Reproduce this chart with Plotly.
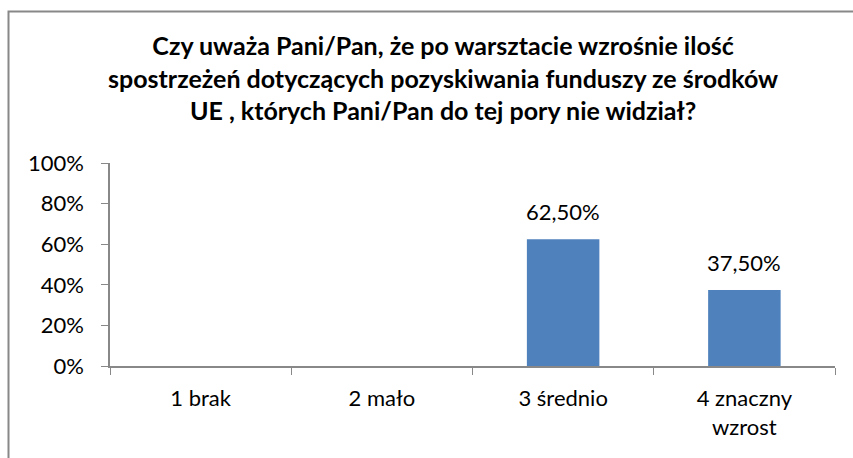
import plotly.graph_objects as go

categories = ["1 brak", "2 mało", "3 średnio", "4 znaczny<br>wzrost"]
values = [0, 0, 0.625, 0.375]
value_labels = ["", "", "62,50%", "37,50%"]
tick_vals = [0, 0.2, 0.4, 0.6, 0.8, 1.0]
tick_text = ["0%", "20%", "40%", "60%", "80%", "100%"]
title_text = ("Czy uważa Pani/Pan, że po warsztacie wzrośnie ilość<br>"
              "spostrzeżeń dotyczących pozyskiwania funduszy ze środków<br>"
              "UE , których Pani/Pan do tej pory nie widział?")

FONT = "Lato, 'Open Sans', sans-serif"
FS = 22

fig = go.Figure()
fig.add_trace(go.Bar(
    x=categories, y=values,
    marker=dict(color="#4F81BD", line=dict(width=0)),
    hoverinfo="skip",
))

for c, v, t in zip(categories, values, value_labels):
    if t:
        fig.add_annotation(x=c, y=v, text=t, showarrow=False, yanchor="bottom",
                           yshift=12, font=dict(size=FS, color="#000000", family=FONT))

W, H = 853, 458
L, R, T, B = 110, 18, 163, 92
pw, ph = W - L - R, H - T - B

def px_x(p):
    return (p - L) / pw

def px_y(p):
    return (H - B - p) / ph

fig.add_shape(type="rect", xref="paper", yref="paper",
              x0=px_x(8.5), x1=px_x(900), y0=px_y(11.5), y1=px_y(500),
              line=dict(color="#888888", width=2), fillcolor="rgba(0,0,0,0)")

fig.add_annotation(xref="paper", yref="paper", x=px_x(443), y=px_y(78),
                   xanchor="center", yanchor="middle", showarrow=False,
                   text="<b>" + title_text + "</b>",
                   font=dict(size=25, color="#000000", family=FONT))

fig.update_layout(
    width=W, height=H,
    margin=dict(l=L, r=R, t=T, b=B),
    paper_bgcolor="white", plot_bgcolor="white",
    bargap=0.6, showlegend=False,
    font=dict(family=FONT, size=FS, color="#000000"),
    xaxis=dict(showline=True, linecolor="#888888", linewidth=1.5,
               ticks="outside", ticklen=7, tickcolor="#888888",
               tickson="boundaries", showgrid=False,
               tickfont=dict(size=FS, family=FONT), ticklabelstandoff=12),
    yaxis=dict(range=[0, 1], tickvals=tick_vals, ticktext=tick_text,
               showline=True, linecolor="#888888", linewidth=1.5,
               ticks="outside", ticklen=7, tickcolor="#888888",
               showgrid=False, zeroline=False,
               tickfont=dict(size=FS, family=FONT), ticklabelstandoff=13),
)

fig.write_html("out.html", config={"displayModeBar": False},
               post_script="document.body.style.margin='0';")
